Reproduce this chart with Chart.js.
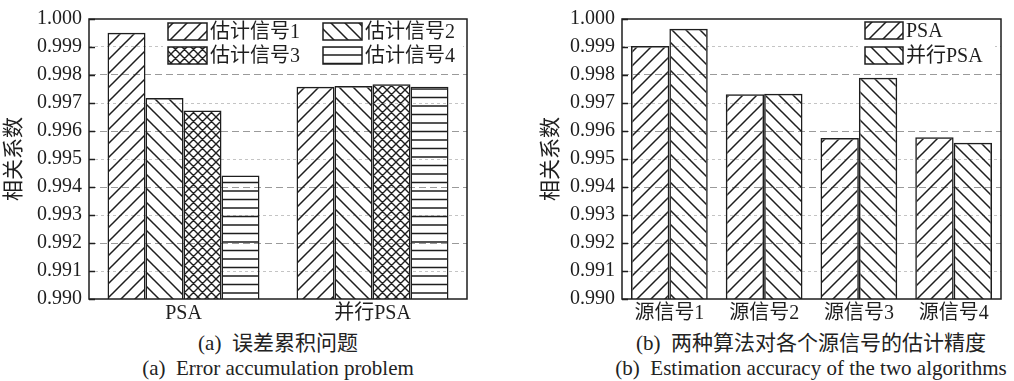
<!DOCTYPE html>
<html>
<head>
<meta charset="utf-8">
<script src="https://cdn.jsdelivr.net/npm/chart.js@4.4.1/dist/chart.umd.min.js"></script>
<style>
  body{margin:0;background:#fff;width:1014px;height:381px;position:relative;overflow:hidden;font-family:'Liberation Serif','Noto Sans CJK SC',serif;color:#222}
  .box{position:absolute;top:0;height:330px}
  .cap{position:absolute;text-align:center;font-size:21px;white-space:nowrap;line-height:22px}
</style>
</head>
<body>
<div class="box" style="left:0;width:480px"><canvas id="chartA"></canvas></div>
<div class="box" style="left:530px;width:484px"><canvas id="chartB"></canvas></div>
<div class="cap" style="left:78px;width:400px;top:332px">(a)&nbsp;&nbsp;误差累积问题</div>
<div class="cap" style="left:78px;width:400px;top:357px">(a)&nbsp;&nbsp;Error accumulation problem</div>
<div class="cap" style="left:561px;width:500px;top:332px">(b)&nbsp;&nbsp;两种算法对各个源信号的估计精度</div>
<div class="cap" style="left:561px;width:500px;top:357px">(b)&nbsp;&nbsp;Estimation accuracy of the two algorithms</div>
<script>
// (a) error accumulation
var groupsA = ['PSA', '并行PSA'];
var namesA = ['估计信号1', '估计信号2', '估计信号3', '估计信号4'];
var sig1 = [0.99951, 0.99758];
var sig2 = [0.99718, 0.99761];
var sig3 = [0.99673, 0.99767];
var sig4 = [0.99441, 0.99758];

// (b) estimation accuracy
var sourcesB = ['源信号1', '源信号2', '源信号3', '源信号4'];
var namesB = ['PSA', '并行PSA'];
var psaB = [0.99904, 0.99731, 0.99575, 0.99578];
var parB = [0.99965, 0.99733, 0.99790, 0.99558];

var yMin = 0.990, yMax = 1.000, yStep = 0.001;
var yTitle = '相关系数';

var FONT = "'Liberation Serif', 'Noto Sans CJK SC', serif";
var INK = '#1e1e1e';

function hatch(kind){
  var p = kind === 'horiz' ? 17 : (kind === 'cross' ? 9 : 14);
  var c = document.createElement('canvas'); c.width = p; c.height = p;
  var g = c.getContext('2d');
  g.strokeStyle = INK; g.lineWidth = 1.5; g.beginPath();
  function fwd(){ g.moveTo(-1, p+1); g.lineTo(p+1, -1); g.moveTo(-p/2-1, p/2+1); g.lineTo(p/2+1, -p/2-1); g.moveTo(p/2-1, 3*p/2+1); g.lineTo(3*p/2+1, p/2-1); }
  function back(){ g.moveTo(-1, -1); g.lineTo(p+1, p+1); g.moveTo(-p/2-1, p/2-1); g.lineTo(p/2+1, 3*p/2+1); g.moveTo(p/2-1, -p/2-1); g.lineTo(3*p/2+1, p/2+1); }
  if (kind === 'fwd') fwd();
  if (kind === 'back') back();
  if (kind === 'cross'){ g.lineWidth = 1.4; fwd(); back(); }
  if (kind === 'horiz'){ g.moveTo(0, 4); g.lineTo(p, 4); g.moveTo(0, 12.5); g.lineTo(p, 12.5); }
  g.stroke();
  return g.createPattern(c, 'repeat');
}

function gridColor(ctx){
  if (ctx.type !== 'tick') return 'rgba(0,0,0,0)';
  var k = Math.round(ctx.tick.value * 1000);
  if (k === 990 || k === 1000) return 'rgba(0,0,0,0)';
  return k % 2 === 0 ? '#9a9a9a' : '#c4c4c4';
}
function gridDash(ctx){
  if (ctx.type !== 'tick') return [];
  var k = Math.round(ctx.tick.value * 1000);
  return k % 2 === 0 ? [7, 4] : [3, 3];
}

// plot frame plus short inward tick marks on the value axis
var framePlugin = {
  id: 'frame',
  afterDraw: function(chart){
    var a = chart.chartArea, ctx = chart.ctx, y = chart.scales.y;
    ctx.save(); ctx.strokeStyle = INK; ctx.lineWidth = 1.5;
    ctx.strokeRect(a.left, a.top, a.right - a.left, a.bottom - a.top);
    ctx.beginPath();
    y.ticks.forEach(function(t){
      var py = Math.round(y.getPixelForValue(t.value)) + 0.5;
      ctx.moveTo(a.left, py); ctx.lineTo(a.left + 6, py);
    });
    ctx.stroke();
    ctx.restore();
  }
};

var legendPlugin = {
  id: 'hatchLegend',
  afterDatasetsDraw: function(chart, args, opts){
    var ctx = chart.ctx;
    ctx.save();
    ctx.fillStyle = '#fff';
    ctx.fillRect(opts.bg[0], opts.bg[1], opts.bg[2], opts.bg[3]);
    chart.data.datasets.forEach(function(ds, i){
      var pos = opts.items[i];
      ctx.fillStyle = ds.backgroundColor;
      ctx.fillRect(pos[0], pos[1], opts.w, opts.h);
      ctx.lineWidth = 1.5; ctx.strokeStyle = INK;
      ctx.strokeRect(pos[0], pos[1], opts.w, opts.h);
      ctx.fillStyle = INK; ctx.font = '20px ' + FONT; ctx.textBaseline = 'middle';
      ctx.fillText(ds.label, pos[0] + opts.w + 3, pos[1] + opts.h / 2 + 1);
    });
    ctx.restore();
  }
};

function options(axisWidth, titlePad, legendOpts){
  return {
    responsive: true,
    maintainAspectRatio: false,
    devicePixelRatio: 1,
    animation: false,
    layout: { padding: { left: 0, right: 13, top: 14, bottom: 0 } },
    plugins: { legend: { display: false }, tooltip: { enabled: false }, hatchLegend: legendOpts },
    scales: {
      x: {
        grid: { display: false, drawTicks: false },
        border: { display: false },
        ticks: { color: INK, font: { family: FONT, size: 20 }, padding: 3 },
        afterFit: function(s){ s.height = 31; }
      },
      y: {
        min: yMin, max: yMax,
        grid: { color: gridColor, lineWidth: 1, drawTicks: false },
        border: { display: false, dash: gridDash },
        ticks: { stepSize: yStep, color: INK, font: { family: FONT, size: 20 }, padding: 7,
          callback: function(v){ return Number(v).toFixed(3); } },
        title: { display: true, text: yTitle, color: INK, font: { family: FONT, size: 21 }, padding: { top: titlePad, bottom: 0 } },
        afterFit: function(s){ s.width = axisWidth; }
      }
    }
  };
}

function barSet(label, data, kind, pct){
  return { label: label, data: data, backgroundColor: hatch(kind), borderColor: INK, borderWidth: 1.5,
    borderSkipped: false, categoryPercentage: pct, barPercentage: 1 };
}

new Chart(document.getElementById('chartA'), {
  type: 'bar',
  data: {
    labels: groupsA,
    datasets: [
      barSet(namesA[0], sig1, 'fwd', 0.804),
      barSet(namesA[1], sig2, 'back', 0.804),
      barSet(namesA[2], sig3, 'cross', 0.804),
      barSet(namesA[3], sig4, 'horiz', 0.804)
    ]
  },
  options: options(89, 2, { w: 39, h: 17, bg: [163, 18, 300, 52], items: [[168, 23], [323, 23], [168, 47], [323, 47]] }),
  plugins: [legendPlugin, framePlugin]
});

new Chart(document.getElementById('chartB'), {
  type: 'bar',
  data: {
    labels: sourcesB,
    datasets: [
      barSet(namesB[0], psaB, 'fwd', 0.81),
      barSet(namesB[1], parB, 'back', 0.81)
    ]
  },
  options: options(92, 9, { w: 38, h: 17, bg: [328, 17, 137, 52], items: [[335, 22], [335, 47]] }),
  plugins: [legendPlugin, framePlugin]
});
</script>
</body>
</html>
